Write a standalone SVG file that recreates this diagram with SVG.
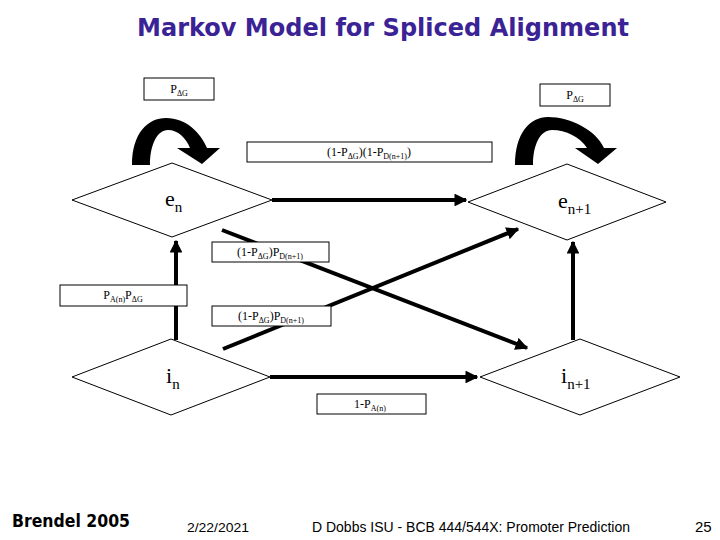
<svg xmlns="http://www.w3.org/2000/svg" width="720" height="540" viewBox="0 0 720 540">
<defs>
<style>
.box{fill:#fff;stroke:#000;stroke-width:1}
.dia{fill:#fff;stroke:#000;stroke-width:1}
.lbl{font-family:"Liberation Serif",serif;font-size:12px;fill:#000}
.sub{font-size:8px}
.node{font-family:"Liberation Serif",serif;font-size:22px;fill:#000}
.nsub{font-size:15px}
.arr{stroke:#000;stroke-width:4;fill:none}
</style>
<marker id="ah" viewBox="0 0 10 10" refX="9" refY="5" markerWidth="3.2" markerHeight="3.2" orient="auto" markerUnits="strokeWidth">
<path d="M0,0 L10,5 L0,10 Z" fill="#000"/>
</marker>
</defs>
<rect width="720" height="540" fill="#fff"/>
<text x="383" y="36" text-anchor="middle" font-family="DejaVu Sans, sans-serif" font-weight="bold" font-size="25" fill="#3b2396" textLength="492" lengthAdjust="spacingAndGlyphs">Markov Model for Spliced Alignment</text>

<g id="connectors">
<path class="arr" d="M272,200 L466,200" marker-end="url(#ah)"/>
<path class="arr" d="M270,377 L477,377" marker-end="url(#ah)"/>
<path class="arr" d="M176,340 L176,241" marker-end="url(#ah)"/>
<path class="arr" d="M573,340 L573,242" marker-end="url(#ah)"/>
<path class="arr" d="M222,230 L527,348" marker-end="url(#ah)"/>
<path class="arr" d="M223,349 L518,229" marker-end="url(#ah)"/>
<path id="loop-left" d="M132,165 C132,133 148,118 166,118 C186,118 200,132 207,148 L220,148 L202,164 L177,148 L190,148 C186,138 178,130 168,130 C157,130 150,145 150,165 Z" fill="#000"/>
<path id="loop-right" d="M515,165 C515,133 530,117 548,117 C570,117 596,130 604,148 L617,148 L598,164 L575,148 L587,148 C580,137 566,130 552,130 C540,130 533,145 533,165 Z" fill="#000"/>
</g>

<g id="e_n">
<polygon class="dia" points="72,200 172,163 272,200 172,237"/>
<text class="node" x="165" y="206">e<tspan class="nsub" dy="6">n</tspan></text>
</g>
<g id="e_n1">
<polygon class="dia" points="468,202 567,164 666,202 567,240"/>
<text class="node" x="558" y="208">e<tspan class="nsub" dy="6">n+1</tspan></text>
</g>
<g id="i_n">
<polygon class="dia" points="72,377 171,339 270,377 171,415"/>
<text class="node" x="166" y="383">i<tspan class="nsub" dy="6">n</tspan></text>
</g>
<g id="i_n1">
<polygon class="dia" points="480,377 580,339 680,377 580,415"/>
<text class="node" x="561" y="383">i<tspan class="nsub" dy="6">n+1</tspan></text>
</g>

<g id="label-pag-left">
<rect class="box" x="144" y="78" width="70" height="22"/>
<text class="lbl" x="179" y="93" text-anchor="middle">P<tspan class="sub" dy="3">ΔG</tspan></text>
</g>
<g id="label-pag-right">
<rect class="box" x="540" y="84" width="70" height="22"/>
<text class="lbl" x="575" y="99" text-anchor="middle">P<tspan class="sub" dy="3">ΔG</tspan></text>
</g>
<g id="label-ee">
<rect class="box" x="247" y="142" width="245" height="20"/>
<text class="lbl" x="369" y="156" text-anchor="middle">(1-P<tspan class="sub" dy="3">ΔG</tspan><tspan dy="-3">)(1-P</tspan><tspan class="sub" dy="3">D(n+1)</tspan><tspan dy="-3">)</tspan></text>
</g>
<g id="label-ei">
<rect class="box" x="212" y="242" width="117" height="20"/>
<text class="lbl" x="270" y="256" text-anchor="middle">(1-P<tspan class="sub" dy="3">ΔG</tspan><tspan dy="-3">)P</tspan><tspan class="sub" dy="3">D(n+1)</tspan></text>
</g>
<g id="label-ie">
<rect class="box" x="212" y="306" width="119" height="20"/>
<text class="lbl" x="271" y="320" text-anchor="middle">(1-P<tspan class="sub" dy="3">ΔG</tspan><tspan dy="-3">)P</tspan><tspan class="sub" dy="3">D(n+1)</tspan></text>
</g>
<g id="label-pan">
<rect class="box" x="60" y="285" width="127" height="21"/>
<text class="lbl" x="123" y="299" text-anchor="middle">P<tspan class="sub" dy="3">A(n)</tspan><tspan dy="-3">P</tspan><tspan class="sub" dy="3">ΔG</tspan></text>
</g>
<g id="label-ii">
<rect class="box" x="317" y="394" width="109" height="20"/>
<text class="lbl" x="370" y="408" text-anchor="middle">1-P<tspan class="sub" dy="3">A(n)</tspan></text>
</g>

<g id="footer">
<text x="12" y="527" font-family="DejaVu Sans, sans-serif" font-weight="bold" font-size="17" fill="#000" textLength="118" lengthAdjust="spacingAndGlyphs">Brendel 2005</text>
<text x="187" y="532" font-family="Liberation Sans, sans-serif" font-size="13" fill="#000" textLength="62" lengthAdjust="spacingAndGlyphs">2/22/2021</text>
<text x="312" y="532" font-family="Liberation Sans, sans-serif" font-size="14" fill="#000" textLength="318" lengthAdjust="spacingAndGlyphs">D Dobbs ISU - BCB 444/544X: Promoter Prediction</text>
<text x="695" y="532" font-family="Liberation Sans, sans-serif" font-size="15" fill="#000">25</text>
</g>
</svg>
